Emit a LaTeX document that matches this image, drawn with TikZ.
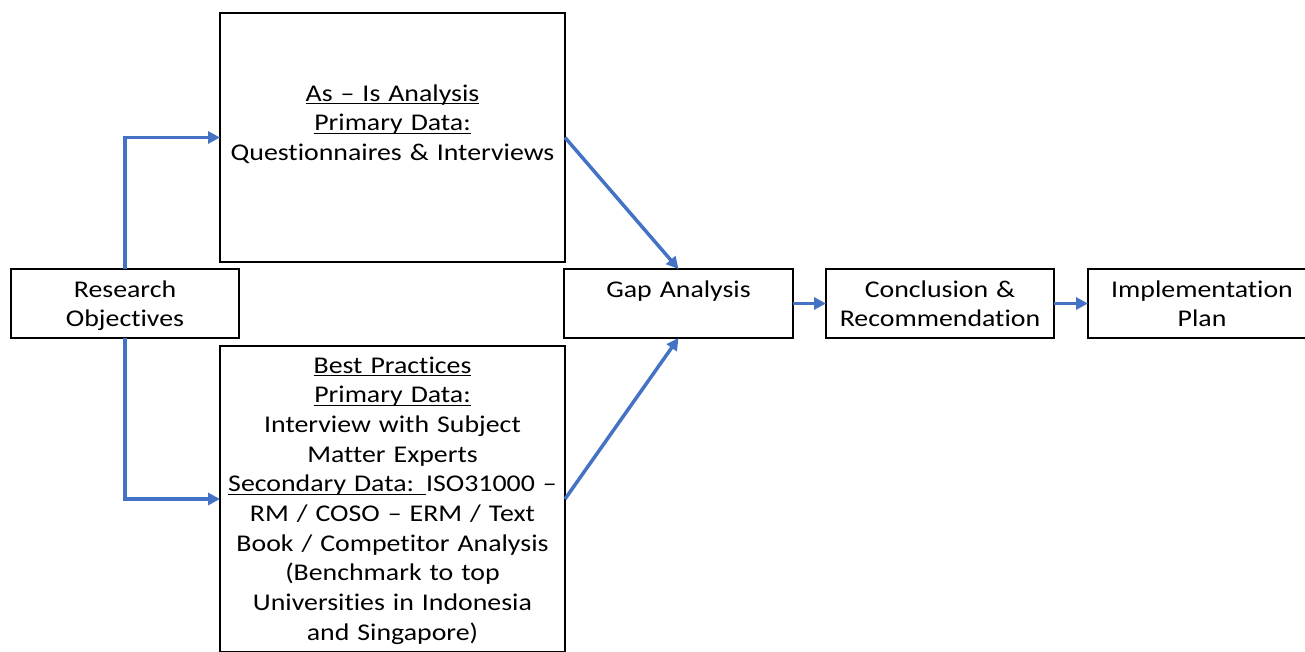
\documentclass[tikz,border=0pt]{standalone}
\usepackage{fontspec}
\setmainfont{Carlito}[FakeStretch=1.16, Ligatures=NoCommon]
\usetikzlibrary{arrows.meta}
\definecolor{flowblue}{HTML}{4472C4}
% underline drawn at a fixed depth below the baseline
\newcommand\ulx[1]{\leavevmode\setbox0\hbox{#1}\rlap{\rule[-3.4pt]{\wd0}{1.5pt}}\box0}

\begin{document}
\begin{tikzpicture}[x=1pt,y=-1pt,
  box/.style={draw=black, line width=1.2pt, inner sep=0pt, outer sep=0pt, rectangle},
  smallbox/.style={box, minimum width=228pt, minimum height=69pt},
  txt/.style={font=\fontsize{24}{29.7}\selectfont, align=center, inner sep=0pt, anchor=base},
  flow/.style={draw=flowblue, line width=3.5pt, -{Triangle[length=12pt,width=12pt]}},
]
\useasboundingbox (0,0) rectangle (1305,651);
\clip (0,0) rectangle (1305,651);

% boxes
\node[smallbox] (ro) at (125,303.5) {};
\node[box, minimum width=345pt, minimum height=249pt] (asis) at (392.5,137.5) {};
\node[box, minimum width=345pt, minimum height=306pt] (best) at (392.5,499) {};
\node[smallbox, minimum width=229pt] (gap) at (678.5,303.5) {};
\node[smallbox] (concl) at (940,303.5) {};
\node[smallbox] (impl) at (1202,303.5) {};

% texts
\node[txt, text width=228pt] (roT) at (125,297) {Research\\Objectives};
\node[txt, text width=345pt] (asisT) at (392.5,101)
  {\ulx{As – Is Analysis}\\\ulx{Primary Data:}\\Questionnaires \& Interviews};
\node[txt, text width=345pt] (bestT) at (392.5,373)
  {\ulx{Best Practices}\\\ulx{Primary Data:}\\Interview with Subject\\Matter Experts\\
   \ulx{Secondary Data: }ISO31000 –\\RM / COSO – ERM / Text\\Book / Competitor Analysis\\
   (Benchmark to top\\Universities in Indonesia\\and Singapore)};
\node[txt, text width=229pt] (gapT) at (678.5,297) {Gap Analysis};
\node[txt, text width=228pt] (conclT) at (940,297) {Conclusion \&\\Recommendation};
\node[txt, text width=228pt] (implT) at (1202,297) {Implementation\\Plan};

% connectors
\draw[flow] (ro.north) |- (asis.west);
\draw[flow] (ro.south) |- (best.west);
\draw[flow] (asis.east) -- (gap.north);
\draw[flow] (best.east) -- (gap.south);
\draw[flow] (gap.east) -- (concl.west);
\draw[flow] (concl.east) -- (impl.west);
\end{tikzpicture}
\end{document}
